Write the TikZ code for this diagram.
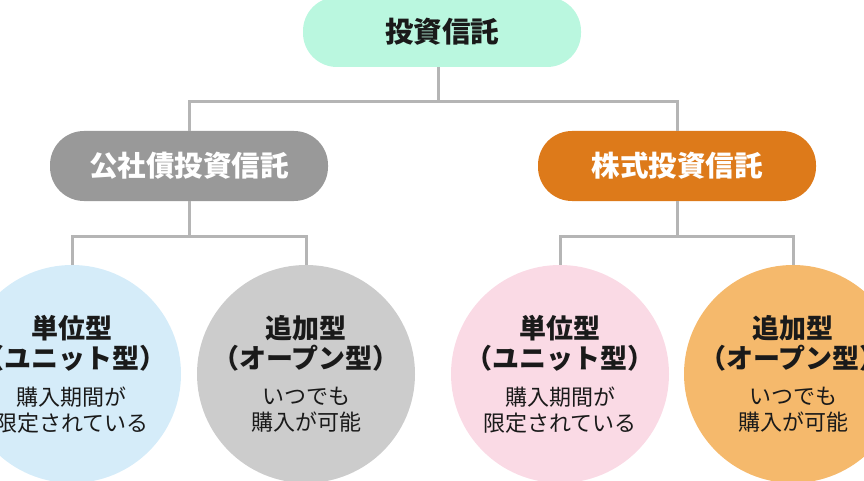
\documentclass[tikz,border=0pt]{standalone}
\usepackage{fontspec}
\setmainfont{Noto Sans CJK JP}
\usepackage{xcolor}
\usepackage{tikz}
\usetikzlibrary{positioning}
\definecolor{fundmint}{HTML}{BAF7DF}
\definecolor{bondgray}{HTML}{999999}
\definecolor{stockorange}{HTML}{DD7A1A}
\definecolor{unitblue}{HTML}{D5ECF9}
\definecolor{opengray}{HTML}{CCCCCC}
\definecolor{unitpink}{HTML}{FADAE5}
\definecolor{openorange}{HTML}{F5B96C}
\definecolor{linegray}{HTML}{B5B5B5}
\definecolor{textdark}{HTML}{1A1A1A}

\begin{document}
\begin{tikzpicture}[x=1pt, y=-1pt,
    pill/.style={rectangle, rounded corners=34pt, minimum width=278pt,
      minimum height=70pt, inner sep=0pt, font=\fontsize{28.5}{32}\selectfont\bfseries},
    kind/.style={circle, minimum size=218pt, inner sep=0pt},
    kindtitle/.style={font=\fontsize{27}{30}\selectfont\bfseries, align=center, text=textdark},
    kindnote/.style={font=\fontsize{22}{26}\selectfont, align=center, text=textdark},
    tree/.style={draw=linegray, line width=3pt}]
  \useasboundingbox (0,0) rectangle (864,481);
  \clip (0,0) rectangle (864,481);
  % Top category
  \node[pill, fill=fundmint, text=textdark] (fund) at (442,32) {投資信託};
  % Second level
  \node[pill, fill=bondgray, text=white] (bond) at (189,166) {公社債投資信託};
  \node[pill, fill=stockorange, text=white] (stock) at (677,166) {株式投資信託};
  % Circles
  \node[kind, fill=unitblue] (bondunit) at (72,374) {};
  \node[kind, fill=opengray] (bondopen) at (306,374) {};
  \node[kind, fill=unitpink] (stockunit) at (560,374) {};
  \node[kind, fill=openorange] (stockopen) at (793,374) {};
  % Circle texts
  \node[kindtitle] (bondunitt) at ([yshift=31pt]bondunit.center) {単位型\\（ユニット型）};
  \node[kindnote] (bondunitn) at ([yshift=-36pt]bondunit.center) {購入期間が\\限定されている};
  \node[kindtitle] (bondopent) at ([yshift=31pt]bondopen.center) {追加型\\（オープン型）};
  \node[kindnote] (bondopenn) at ([yshift=-36pt]bondopen.center) {いつでも\\購入が可能};
  \node[kindtitle] (stockunitt) at ([yshift=31pt]stockunit.center) {単位型\\（ユニット型）};
  \node[kindnote] (stockunitn) at ([yshift=-36pt]stockunit.center) {購入期間が\\限定されている};
  \node[kindtitle] (stockopent) at ([yshift=31pt]stockopen.center) {追加型\\（オープン型）};
  \node[kindnote] (stockopenn) at ([yshift=-36pt]stockopen.center) {いつでも\\購入が可能};
  % Tree lines
  \draw[tree] ([xshift=-4pt]fund.south) -- ++(0,34) coordinate (fundjoin);
  \draw[tree] (bond.north) |- (fundjoin) -| (stock.north);
  \draw[tree] (bond.south) -- ++(0,35) coordinate (bondjoin);
  \draw[tree] (bondunit.north) |- (bondjoin) -| (bondopen.north);
  \draw[tree] (stock.south) -- ++(0,35) coordinate (stockjoin);
  \draw[tree] (stockunit.north) |- (stockjoin) -| (stockopen.north);
\end{tikzpicture}
\end{document}
